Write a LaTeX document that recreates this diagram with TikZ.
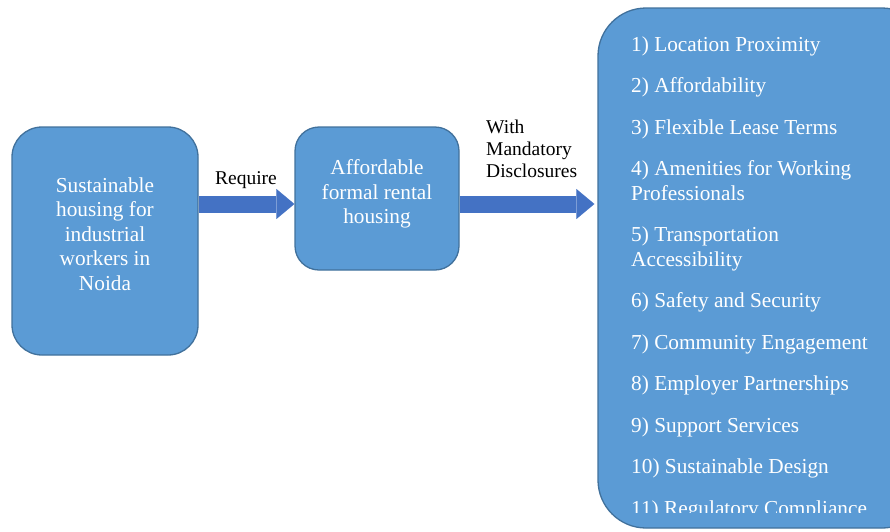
\documentclass[tikz,border=0pt]{standalone}
\usepackage{fontspec}
\setmainfont{Liberation Serif}
\usetikzlibrary{arrows.meta,positioning}

\definecolor{boxfill}{HTML}{5B9BD5}
\definecolor{boxline}{HTML}{41719C}
\definecolor{arrowfill}{HTML}{4472C4}

\tikzset{
    stage/.style={rounded corners=#1, fill=boxfill, draw=boxline, line width=1.3pt},
    boxtext/.style={text=white, align=center, inner sep=0pt, font=\fontsize{21.3}{24.5}\selectfont},
    blockarrow/.style={draw=arrowfill, line width=17pt,
        -{Triangle[length=18pt,width=30pt,line width=0.1pt,fill=arrowfill]}},
    lbl/.style={font=\fontsize{19.5}{22}\selectfont, align=left, inner sep=0pt}
}

\begin{document}
\begin{tikzpicture}[x=1pt,y=-1pt]

        \clip (0,0) rectangle (890,531);

        % boxes
        \node[stage=30pt, minimum width=186pt, minimum height=228pt] (workers) at (105,241) {};
        \node[stage=24pt, minimum width=164pt, minimum height=143pt] (rental) at (377,198.5) {};
        \node[stage=48pt, minimum width=332pt, minimum height=520pt] (factors) at (764,268) {};

        % box texts
        \node[boxtext] (workerstxt) at ([yshift=7pt]workers.center)
            {Sustainable\\ housing for\\ industrial\\ workers in\\ Noida};
        \node[boxtext] (rentaltxt) at ([yshift=4.5pt]rental.center)
            {Affordable\\ formal rental\\ housing};

        % list inside the big box
        \begin{scope}
            \clip (598,8) rectangle (890,512);
            \node[boxtext, align=left, anchor=north west] (list) at (631,36.3)
                {1) Location Proximity\\[17pt]
                 2) Affordability\\[17pt]
                 3) Flexible Lease Terms\\[17pt]
                 4) Amenities for Working\\ Professionals\\[17pt]
                 5) Transportation\\ Accessibility\\[17pt]
                 6) Safety and Security\\[17pt]
                 7) Community Engagement\\[17pt]
                 8) Employer Partnerships\\[17pt]
                 9) Support Services\\[17pt]
                 10) Sustainable Design\\[17pt]
                 11) Regulatory Compliance};
        \end{scope}

        % arrows
        \coordinate (flow) at (0,204);
        \draw[blockarrow] (flow -| workers.east) -- (flow -| rental.west);
        \draw[blockarrow, shorten >=3pt] (flow -| rental.east) -- (flow -| factors.west);

        % labels
        \node[lbl] (req) at (246,180) {Require};
        \node[lbl, anchor=west] (disc) at (486,149) {With\\ Mandatory\\ Disclosures};

\end{tikzpicture}
\end{document}
